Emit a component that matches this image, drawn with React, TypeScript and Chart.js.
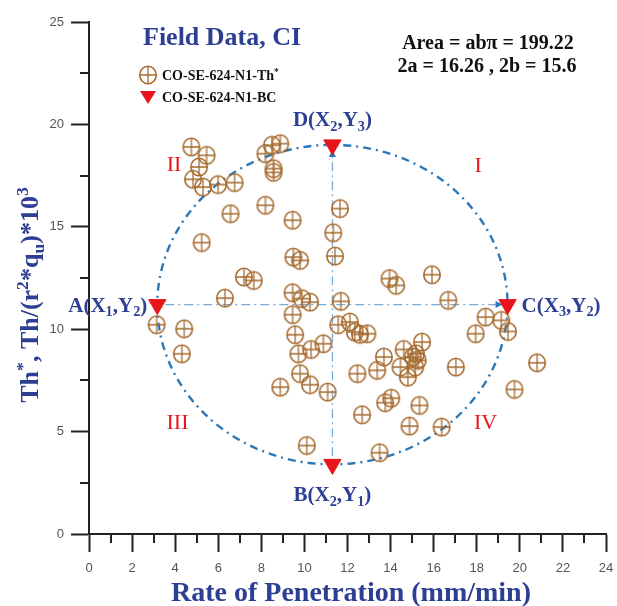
import React, { useEffect, useRef } from 'react';
import { Chart, registerables } from 'chart.js';
Chart.register(...registerables);

// Field data (Th*) points
const thX = [4.75, 5.46, 5.11, 4.83, 5.29, 5.99, 6.76, 8.19, 8.49, 8.88, 8.57, 8.57, 8.19, 6.57, 9.45, 5.23, 9.49, 9.80, 7.19, 7.65, 6.31, 9.45, 9.88, 10.26, 11.65, 11.34, 11.42, 13.95, 14.26, 15.92, 11.69, 16.68, 3.14, 4.42, 4.31, 9.45, 9.57, 9.72, 10.31, 10.88, 9.80, 10.26, 8.88, 11.08, 10.11, 11.57, 12.11, 12.34, 12.58, 12.92, 15.46, 14.61, 15.18, 15.03, 15.26, 14.46, 15.14, 14.80, 13.69, 13.38, 12.46, 17.03, 20.80, 19.75, 17.95, 18.41, 19.14, 19.45, 14.03, 13.75, 15.34, 12.68, 14.88, 16.37, 13.49];
const thY = [18.90, 18.49, 17.92, 17.32, 16.94, 17.06, 17.16, 18.57, 18.98, 19.06, 17.84, 17.66, 16.05, 15.64, 15.32, 14.23, 13.52, 13.36, 12.55, 12.38, 11.52, 11.78, 11.49, 11.32, 15.89, 14.71, 13.57, 12.47, 12.14, 12.66, 11.36, 11.41, 10.22, 10.02, 8.80, 10.71, 9.73, 8.80, 9.01, 9.29, 7.83, 7.29, 7.17, 6.93, 4.32, 10.22, 10.35, 9.86, 9.75, 9.78, 9.37, 9.01, 8.80, 8.64, 8.48, 8.15, 8.15, 7.66, 8.64, 7.99, 7.83, 8.15, 8.36, 7.06, 9.78, 10.59, 10.43, 9.89, 6.63, 6.41, 6.28, 5.82, 5.27, 5.22, 3.97];

// Boundary (BC) points A, B, C, D
const bcNames = ['A', 'B', 'C', 'D'];
const bcX = [3.17, 11.3, 19.43, 11.3];
const bcY = [11.2, 3.4, 11.2, 19.0];

// Ellipse parameters
const ellipseCenter = [11.3, 11.2];
const semiA = 8.13;
const semiB = 7.8;

// Quadrant labels
const quadText = ['I', 'II', 'III', 'IV'];
const quadX = [18.06, 3.95, 4.11, 18.41];
const quadY = [18.08, 18.13, 5.54, 5.54];

const xMin = 0, xMax = 24, xStep = 2;
const yMin = 0, yMax = 25, yStep = 5;

const BLUE = '#2c3f93';
const BROWN = '#a56a2e';
const RED = '#e8141c';
const LINE_BLUE = '#2a78b8';
const CROSS_BLUE = '#79acd8';
const SERIF = '"Liberation Serif", "Times New Roman", serif';

type Part = [string, string];

function drawRich(ctx: CanvasRenderingContext2D, parts: Part[], x: number, y: number, align: 'left' | 'center' | 'right', size: number, weight: string, color: string) {
  const small = size * 0.68;
  const w = parts.reduce((acc, [t, m]) => {
    ctx.font = `${weight} ${m ? small : size}px ${SERIF}`;
    return acc + ctx.measureText(t).width;
  }, 0);
  let cx = align === 'left' ? x : align === 'center' ? x - w / 2 : x - w;
  ctx.fillStyle = color;
  ctx.textBaseline = 'alphabetic';
  ctx.textAlign = 'left';
  for (const [t, m] of parts) {
    ctx.font = `${weight} ${m ? small : size}px ${SERIF}`;
    const dy = m === 'sub' ? size * 0.22 : m === 'sup' ? -size * 0.38 : 0;
    ctx.fillText(t, cx, y + dy);
    cx += ctx.measureText(t).width;
  }
}

function makeMarker(): HTMLCanvasElement {
  const c = document.createElement('canvas');
  c.width = 22; c.height = 22;
  const g = c.getContext('2d')!;
  g.strokeStyle = BROWN;
  g.lineWidth = 1.6;
  g.beginPath();
  g.ellipse(11, 11, 8.2, 8.8, 0, 0, Math.PI * 2);
  g.stroke();
  g.lineWidth = 1.3;
  g.beginPath();
  g.moveTo(3, 11); g.lineTo(19, 11);
  g.moveTo(11, 2.3); g.lineTo(11, 19.7);
  g.stroke();
  return c;
}

const overlay = {
  id: 'overlay',
  beforeDatasetsDraw(chart: any) {
    const { ctx, scales } = chart;
    const xs = scales.x, ys = scales.y;
    const cx = xs.getPixelForValue(ellipseCenter[0]);
    const cy = ys.getPixelForValue(ellipseCenter[1]);
    const rx = Math.abs(xs.getPixelForValue(ellipseCenter[0] + semiA) - cx);
    const ry = Math.abs(ys.getPixelForValue(ellipseCenter[1] + semiB) - cy);
    ctx.save();
    // crosshair lines
    const ax = xs.getPixelForValue(bcX[0]);
    const ccx = xs.getPixelForValue(bcX[2]);
    const by = ys.getPixelForValue(bcY[1]);
    const dy = ys.getPixelForValue(bcY[3]);
    ctx.strokeStyle = CROSS_BLUE;
    ctx.lineWidth = 1.3;
    ctx.setLineDash([9, 4, 2, 4]);
    ctx.beginPath();
    ctx.moveTo(ax + 8, cy); ctx.lineTo(ccx - 10, cy);
    ctx.moveTo(cx, by - 8); ctx.lineTo(cx, dy + 10);
    ctx.stroke();
    ctx.setLineDash([]);
    ctx.fillStyle = LINE_BLUE;
    ctx.beginPath();
    ctx.moveTo(ccx - 5, cy); ctx.lineTo(ccx - 12, cy - 3.5); ctx.lineTo(ccx - 12, cy + 3.5); ctx.closePath();
    ctx.fill();
    ctx.beginPath();
    ctx.moveTo(cx, dy + 5); ctx.lineTo(cx - 3.5, dy + 12); ctx.lineTo(cx + 3.5, dy + 12); ctx.closePath();
    ctx.fill();
    // ellipse
    ctx.strokeStyle = LINE_BLUE;
    ctx.lineWidth = 2.4;
    ctx.setLineDash([8, 5, 2, 5]);
    ctx.beginPath();
    ctx.ellipse(cx, cy, rx, ry, 0, 0, Math.PI * 2);
    ctx.stroke();
    ctx.restore();
  },
  afterDraw(chart: any) {
    const { ctx, scales, chartArea } = chart;
    const xs = scales.x, ys = scales.y;
    ctx.save();
    // minor ticks
    ctx.strokeStyle = '#222';
    ctx.lineWidth = 2;
    ctx.beginPath();
    for (let v = yMin + yStep / 2; v < yMax; v += yStep) {
      const p = Math.round(ys.getPixelForValue(v));
      ctx.moveTo(chartArea.left - 9, p); ctx.lineTo(chartArea.left, p);
    }
    for (let v = xMin + xStep / 2; v < xMax; v += xStep) {
      const p = Math.round(xs.getPixelForValue(v));
      ctx.moveTo(p, chartArea.bottom); ctx.lineTo(p, chartArea.bottom + 9);
    }
    ctx.stroke();

    // y axis title
    ctx.save();
    ctx.translate(38, 295);
    ctx.rotate(-Math.PI / 2);
    drawRich(ctx, [['Th', ''], ['*', 'sup'], [', Th/(r', ''], ['2', 'sup'], ['*q', ''], ['u', 'sub'], [')*10', ''], ['3', 'sup']], 0, 0, 'center', 26, 'bold', BLUE);
    ctx.restore();
    // x axis title
    drawRich(ctx, [['Rate of Penetration (mm/min)', '']], 351, 601, 'center', 28, 'bold', BLUE);

    // title & legend
    drawRich(ctx, [['Field Data, CI', '']], 143, 45, 'left', 26, 'bold', BLUE);
    const mk = makeMarker();
    ctx.drawImage(mk, 148 - 11, 75 - 11);
    drawRich(ctx, [['CO-SE-624-N1-Th', ''], ['*', 'sup']], 162, 80, 'left', 14, 'bold', '#111');
    ctx.fillStyle = RED;
    ctx.beginPath();
    ctx.moveTo(140, 91); ctx.lineTo(156, 91); ctx.lineTo(148, 104); ctx.closePath();
    ctx.fill();
    drawRich(ctx, [['CO-SE-624-N1-BC', '']], 162, 102, 'left', 14, 'bold', '#111');

    // area annotation
    drawRich(ctx, [['Area = ab\u03c0 = 199.22', '']], 488, 49, 'center', 20, 'bold', '#111');
    drawRich(ctx, [['2a = 16.26 , 2b = 15.6', '']], 487, 72, 'center', 20, 'bold', '#111');

    // quadrant labels
    for (let i = 0; i < quadText.length; i++) {
      drawRich(ctx, [[quadText[i], '']], xs.getPixelForValue(quadX[i]), ys.getPixelForValue(quadY[i]) + 8, 'center', 22, 'normal', RED);
    }

    // point labels
    const lab = (n: string, a: string, b: string): Part[] => [[n + '(X', ''], [a, 'sub'], [',Y', ''], [b, 'sub'], [')', '']];
    drawRich(ctx, lab('A', '1', '2'), xs.getPixelForValue(bcX[0]) - 10, ys.getPixelForValue(bcY[0]) + 7, 'right', 21, 'bold', BLUE);
    drawRich(ctx, lab('B', '2', '1'), xs.getPixelForValue(bcX[1]), ys.getPixelForValue(bcY[1]) + 37, 'center', 21, 'bold', BLUE);
    drawRich(ctx, lab('C', '3', '2'), xs.getPixelForValue(bcX[2]) + 14, ys.getPixelForValue(bcY[2]) + 7, 'left', 21, 'bold', BLUE);
    drawRich(ctx, lab('D', '2', '3'), xs.getPixelForValue(bcX[3]), ys.getPixelForValue(bcY[3]) - 19, 'center', 21, 'bold', BLUE);
    ctx.restore();
  },
};

export default function App() {
  const ref = useRef<HTMLCanvasElement>(null);
  useEffect(() => {
    if (!ref.current) return;
    const marker = makeMarker();
    const chart = new Chart(ref.current, {
      type: 'scatter',
      data: {
        datasets: [
          {
            label: 'CO-SE-624-N1-BC',
            data: bcX.map((x, i) => ({ x, y: bcY[i] })),
            pointStyle: 'triangle',
            rotation: 180,
            pointRadius: 10,
            backgroundColor: RED,
            borderColor: RED,
            borderWidth: 1,
          },
          {
            label: 'CO-SE-624-N1-Th*',
            data: thX.map((x, i) => ({ x, y: thY[i] })),
            pointStyle: marker as any,
            pointRadius: 9,
          },
        ],
      },
      options: {
        animation: false,
        responsive: false,
        layout: { padding: { top: 22, right: 8, left: 0, bottom: 0 } },
        plugins: { legend: { display: false }, tooltip: { enabled: false } },
        scales: {
          x: {
            type: 'linear',
            min: xMin,
            max: xMax,
            afterFit: (s: any) => { s.height = 72; s.paddingLeft = 0; s.paddingRight = 0; },
            ticks: { stepSize: xStep, color: '#555', font: { family: 'Liberation Sans', size: 13 }, padding: 9, maxRotation: 0, autoSkip: false },
            grid: { drawOnChartArea: false, drawTicks: true, tickLength: 18, tickWidth: 2, tickColor: '#222' },
            border: { display: true, color: '#222', width: 2 },
          },
          y: {
            type: 'linear',
            min: yMin,
            max: yMax,
            afterFit: (s: any) => { s.width = 89; s.paddingTop = 0; s.paddingBottom = 0; },
            ticks: { stepSize: yStep, color: '#555', font: { family: 'Liberation Sans', size: 13 }, padding: 7 },
            grid: { drawOnChartArea: false, drawTicks: true, tickLength: 18, tickWidth: 2, tickColor: '#222' },
            border: { display: true, color: '#222', width: 2 },
          },
        },
      },
      plugins: [overlay],
    });
    return () => chart.destroy();
  }, []);
  return (
    <div style={{ position: 'absolute', left: 0, top: 0, width: 617, height: 606, background: '#fff' }}>
      <canvas ref={ref} width={617} height={606} />
    </div>
  );
}
